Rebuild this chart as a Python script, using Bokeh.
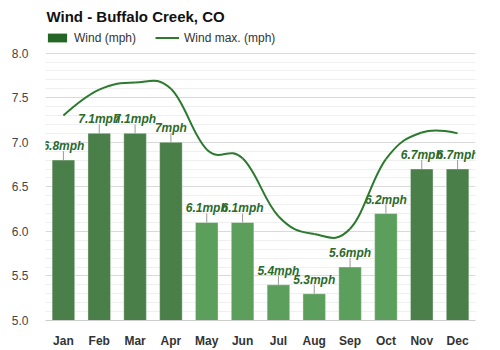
import numpy as np
from bokeh.plotting import figure
from bokeh.models import (Range1d, FixedTicker, PrintfTickFormatter, Legend, LegendItem,
                          Label, ColumnDataSource)
from bokeh.core.properties import value
from bokeh.embed import file_html
from bokeh.resources import INLINE

# ---------------- data ----------------
months = ["Jan", "Feb", "Mar", "Apr", "May", "Jun", "Jul", "Aug", "Sep", "Oct", "Nov", "Dec"]
wind_avg = [6.8, 7.1, 7.1, 7.0, 6.1, 6.1, 5.4, 5.3, 5.6, 6.2, 6.7, 6.7]
wind_max = [7.30, 7.59, 7.67, 7.60, 6.92, 6.82, 6.17, 5.97, 6.03, 6.81, 7.11, 7.10]
y_ticks = [5.0, 5.5, 6.0, 6.5, 7.0, 7.5, 8.0]
title_text = "Wind - Buffalo Creek, CO"
unit = "mph"
legend_labels = ["Wind (mph)", "Wind max. (mph)"]

# ---------------- style ----------------
FONT = "Liberation Sans"
W, H = 500, 350
B_LEFT, B_RIGHT, HEADER, B_BOTTOM = 45, 25, 53, 28
Y0, Y1 = y_ticks[0], y_ticks[-1]
PLOT_H = H - HEADER - B_BOTTOM          # height of the 5.0 .. 8.0 area
PX = (Y1 - Y0) / PLOT_H                 # data units per pixel
FRAME_H = H - B_BOTTOM                  # frame also holds the header (title + legend)
DARK = "#4a7f4a"
LIGHT = "#5c9f5c"
LINE = "#2b7a2e"
LABEL = "#2a6a2a"
SWATCH = "#256525"

xs = list(range(1, len(months) + 1))

p = figure(width=W, height=H, output_backend="svg", toolbar_location=None, tools="",
           x_range=Range1d(0.5, len(months) + 0.5),
           y_range=Range1d(Y0, Y1 + HEADER * PX),
           min_border_left=B_LEFT, min_border_right=B_RIGHT,
           min_border_top=0, min_border_bottom=B_BOTTOM)
p.outline_line_color = None
p.background_fill_color = "white"
p.border_fill_color = "white"

# axes
p.xaxis.ticker = FixedTicker(ticks=xs)
p.xaxis.major_label_overrides = {x: m for x, m in zip(xs, months)}
p.xaxis.major_label_text_font = FONT
p.xaxis.major_label_text_font_size = "12px"
p.xaxis.major_label_text_font_style = "bold"
p.xaxis.major_label_text_color = "#333333"
p.xaxis.major_label_standoff = 7
p.xaxis.axis_line_color = "#cccccc"
p.xaxis.major_tick_line_color = None
p.xaxis.minor_tick_line_color = None

minor = [round(v, 2) for v in np.arange(Y0, Y1 + 1e-9, 0.1)]
p.yaxis.ticker = FixedTicker(ticks=y_ticks, minor_ticks=minor)
p.yaxis.formatter = PrintfTickFormatter(format="%.1f")
p.yaxis.major_label_text_font = FONT
p.yaxis.major_label_text_font_size = "12px"
p.yaxis.major_label_text_color = "#444444"
p.yaxis.major_label_standoff = 11
p.yaxis.axis_line_color = None
p.yaxis.major_tick_line_color = None
p.yaxis.minor_tick_line_color = None

p.xgrid.visible = False
p.ygrid.grid_line_color = "#d9d9d9"
p.ygrid.minor_grid_line_color = "#efefef"

# bars
colors = [DARK if v >= 6.5 else LIGHT for v in wind_avg]
src = ColumnDataSource(dict(
    x=xs, top=wind_avg, color=colors,
    lead=[v + 9 * PX for v in wind_avg],
    label=[f"{v:g}{unit}" for v in wind_avg],
))
p.vbar(x="x", top="top", bottom=Y0, width=0.63, source=src,
       fill_color="color", line_color="white", line_alpha=0.35, line_width=1)
p.segment(x0="x", y0="top", x1="x", y1="lead", source=src,
          line_color="#999999", line_width=1)
p.text(x="x", y="top", text="label", source=src, y_offset=-14,
       text_align="center", text_baseline="alphabetic",
       text_font=value(FONT), text_font_size="12px", text_font_style="bold italic",
       text_color=LABEL)

# smooth line (spline through the monthly points)
xa = np.array(xs, dtype=float)
ya = np.array(wind_max, dtype=float)
n = len(xa)
S = 1.5
D = S + 1
lcx, lcy, rcx, rcy = xa.copy(), ya.copy(), xa.copy(), ya.copy()
for i in range(1, n - 1):
    lx = (S * xa[i] + xa[i - 1]) / D
    ly = (S * ya[i] + ya[i - 1]) / D
    rx = (S * xa[i] + xa[i + 1]) / D
    ry = (S * ya[i] + ya[i + 1]) / D
    corr = (ry - ly) * (rx - xa[i]) / (rx - lx) + ya[i] - ry
    lcx[i], lcy[i], rcx[i], rcy[i] = lx, ly + corr, rx, ry + corr
p.bezier(x0=xa[:-1], y0=ya[:-1], x1=xa[1:], y1=ya[1:],
         cx0=rcx[:-1], cy0=rcy[:-1], cx1=lcx[1:], cy1=lcy[1:],
         line_color=LINE, line_width=2)

# legend-only renderers: zero-height bars and a one-point line draw nothing in the plot
leg_bar = p.vbar(x=xs, top=Y0, bottom=Y0, width=0.5, fill_color=SWATCH, line_color=None)
leg_line = p.line(x=xs[:1], y=wind_max[:1], line_color=LINE, line_width=2)
legend = Legend(items=[LegendItem(label=legend_labels[0], renderers=[leg_bar]),
                       LegendItem(label=legend_labels[1], renderers=[leg_line])],
                location=(0, FRAME_H - 46.5), orientation="horizontal",
                glyph_width=24, glyph_height=11, label_standoff=5, spacing=19,
                padding=0, margin=0, border_line_color=None, background_fill_alpha=0,
                label_text_font=FONT, label_text_font_size="12px",
                label_text_color="#333333", label_height=11)
p.add_layout(legend, "center")

# title
p.add_layout(Label(x=1, y=FRAME_H - 18, x_units="screen", y_units="screen",
                   text=title_text, text_font=FONT, text_font_size="15px",
                   text_font_style="bold", text_color="#111111",
                   text_baseline="alphabetic"))

open("out.html", "w").write(file_html(p, INLINE))
